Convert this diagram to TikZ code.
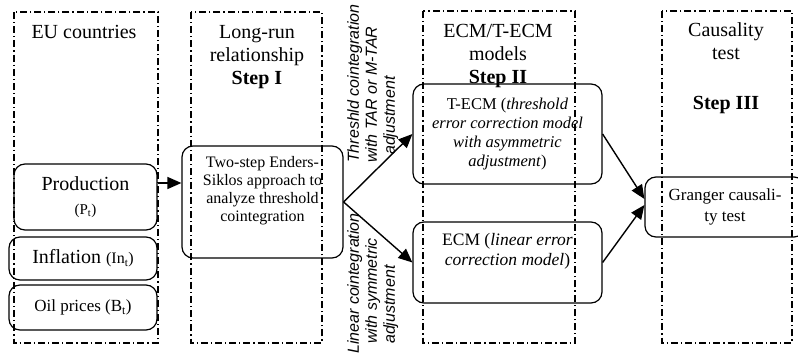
\documentclass[tikz,border=0pt]{standalone}
\usepackage{fontspec}
\setmainfont{Liberation Serif}
\setsansfont{Liberation Sans}
\usetikzlibrary{arrows.meta}
\begin{document}
\begin{tikzpicture}[x=1pt,y=-1pt,
  col/.style={draw, line width=1.1pt, dash pattern=on 7pt off 3pt on 1.2pt off 3pt},
  box/.style={draw, line width=1.2pt, rounded corners=11pt, inner sep=0pt, align=center},
  ttl/.style={align=center, inner sep=0pt, font=\fontsize{20}{23}\selectfont},
  arr/.style={line width=1.4pt, -{Triangle[length=14pt,width=12pt]}},
  lbl/.style={font=\sffamily\itshape\fontsize{16}{18}\selectfont, rotate=90, align=left, inner sep=0pt}]
\clip (0,0) rectangle (798,356);
\fill[white] (0,0) rectangle (798,356);
% column frames
\draw[col] (14,12) rectangle (158,343);
\draw[col] (191,12) rectangle (322,343);
\draw[col] (423,11) rectangle (575,343);
\draw[col] (662,11) rectangle (792,343);
% titles
\node[ttl] (t1) at (84,32) {EU countries};
\node[ttl] (t2) at (257,57) {Long-run\\relationship\\\textbf{Step I}};
\node[ttl] (t3) at (498,56) {ECM/T-ECM\\models\\\textbf{Step II}};
\node[ttl] (t4) at (726,68) {Causality\\test\\[27pt]\textbf{Step III}};
% boxes
\node[box, minimum width=143, minimum height=66, font=\fontsize{20}{24}\selectfont] (prod) at (85.5,197)
  {Production\\{\fontsize{15}{18}\selectfont (P\textsubscript{t})}};
\node[box, minimum width=148, minimum height=43] (infl) at (83,258.5)
  {\fontsize{20}{24}\selectfont Inflation {\fontsize{16}{18}\selectfont (In\textsubscript{t})}};
\node[box, minimum width=148, minimum height=45] (oil) at (83,307.5)
  {\fontsize{17}{20}\selectfont Oil prices (B\textsubscript{t})};
\node[box, minimum width=161, minimum height=112, font=\fontsize{16}{18}\selectfont] (two) at (262.5,202)
  {Two-step Enders-\\Siklos approach to\\analyze threshold\\cointegration\\[8pt]};
\node[box, minimum width=189, minimum height=100, font=\fontsize{16.5}{19}\selectfont] (tecm) at (507.5,134)
  {T-ECM (\textit{threshold}\\\textit{error correction model}\\\textit{with asymmetric}\\\textit{adjustment})};
\node[box, minimum width=189, minimum height=81, font=\fontsize{17.5}{20}\selectfont] (ecm) at (507.5,262.5)
  {ECM (\textit{linear error}\\\textit{correction model})\\[6pt]};
\node[box, minimum width=160, minimum height=60, font=\fontsize{17}{21}\selectfont] (gr) at (725,207)
  {Granger causali-\\ty test};
% connectors
\draw[arr] ([yshift=14pt]prod.east) -- ([yshift=14pt]prod.east -| two.west);
\draw[arr] (two.east) -- (tecm.west);
\draw[arr] (two.east) -- (ecm.west);
\draw[arr] (tecm.east) -- ([yshift=8pt]gr.west);
\draw[arr] (ecm.east) -- ([yshift=2pt]gr.west);
% rotated labels
\node[lbl, anchor=north west] (lup) at (347,163) {Threshld cointegration\\with TAR or M-TAR\\\hspace*{8pt}adjustment};
\node[lbl, anchor=north west] (llo) at (347,354) {Linear cointegration\\\hspace*{10pt}with symmetric\\\hspace*{10pt}adjustment};
\end{tikzpicture}
\end{document}
